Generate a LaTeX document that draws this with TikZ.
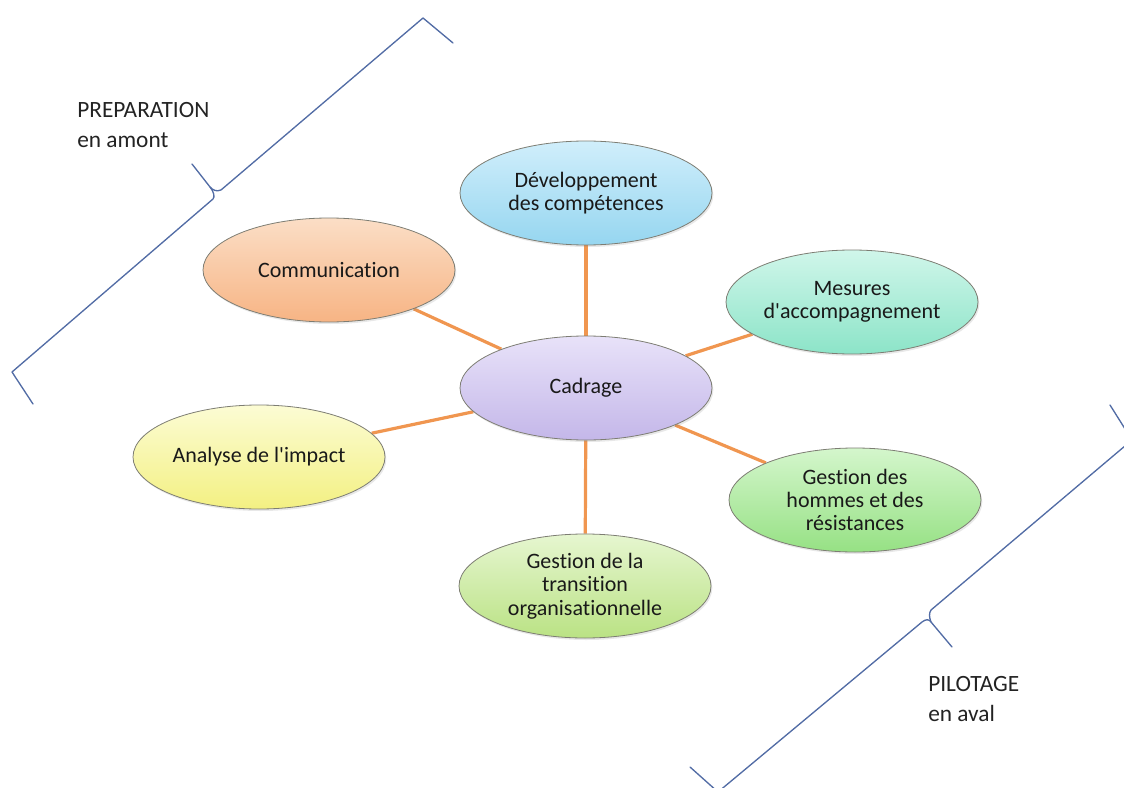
\documentclass[tikz,border=0pt]{standalone}
\usepackage{fontspec}
\setmainfont{Carlito}[Ligatures=NoCommon]
\usetikzlibrary{shapes.geometric,shadows,backgrounds}
\definecolor{bordergray}{RGB}{125,125,115}
\definecolor{textdark}{RGB}{25,25,25}
\definecolor{labeltext}{RGB}{35,35,35}
\definecolor{linkorange}{RGB}{240,150,80}
\definecolor{bracketblue}{RGB}{82,108,165}
\definecolor{devtop}{RGB}{208,238,251}\definecolor{devbot}{RGB}{150,214,240}
\definecolor{comtop}{RGB}{251,222,198}\definecolor{combot}{RGB}{247,180,132}
\definecolor{mestop}{RGB}{208,246,234}\definecolor{mesbot}{RGB}{140,228,200}
\definecolor{cadtop}{RGB}{232,226,249}\definecolor{cadbot}{RGB}{196,183,233}
\definecolor{anatop}{RGB}{252,252,212}\definecolor{anabot}{RGB}{243,240,130}
\definecolor{homtop}{RGB}{212,246,204}\definecolor{hombot}{RGB}{150,225,132}
\definecolor{tratop}{RGB}{230,246,208}\definecolor{trabot}{RGB}{186,226,132}
\begin{document}
\begin{tikzpicture}[x=0.75pt,y=-0.75pt,
  bubble/.style={ellipse, draw=bordergray, line width=0.6pt,
    minimum width=189pt, minimum height=78pt, inner sep=0pt,
    align=center, text=textdark,
    font=\fontsize{16.5}{17.5}\selectfont,
    drop shadow={opacity=0.18, shadow xshift=1pt, shadow yshift=-1.5pt}},
  link/.style={draw=linkorange, line width=2.4pt},
  sidelabel/.style={anchor=north west, inner sep=0pt, align=left,
    text=labeltext, font=\fontsize{17.5}{22.5}\selectfont},
  bracket/.style={draw=bracketblue, line width=1pt, line join=round, line cap=round}
]
\useasboundingbox (0,0) rectangle (1124,788);
\clip (0,0) rectangle (1124,788);

% ellipses
\node[bubble, top color=cadtop, bottom color=cadbot] (cad) at (586,388) {Cadrage};
\node[bubble, top color=devtop, bottom color=devbot] (dev) at (586,193) {Développement\\des compétences};
\node[bubble, top color=comtop, bottom color=combot] (com) at (329,270) {Communication};
\node[bubble, top color=mestop, bottom color=mesbot] (mes) at (852,302) {Mesures\\d\textquotesingle accompagnement};
\node[bubble, top color=anatop, bottom color=anabot] (ana) at (259,457) {Analyse de l\textquotesingle impact};
\node[bubble, top color=homtop, bottom color=hombot] (hom) at (855,500) {Gestion des\\hommes et des\\résistances};
\node[bubble, top color=tratop, bottom color=trabot] (tra) at (585,586) {Gestion de la\\transition\\organisationnelle};

% connectors (behind the ellipses)
\begin{pgfonlayer}{background}
\draw[link] (cad) -- (dev);
\draw[link] (cad) -- (com);
\draw[link] (cad) -- (mes);
\draw[link] (cad) -- (ana);
\draw[link] (cad) -- (hom);
\draw[link] (cad) -- (tra);
\end{pgfonlayer}

% side labels
\node[sidelabel] (prep) at (77,102) {PREPARATION\\en amont};
\node[sidelabel] (pilot) at (928,676) {PILOTAGE\\en aval};

% top-left bracket
\draw[bracket] (33,404) -- (12,372) -- (213,199)
  .. controls (215,197) and (214,192) .. (210,187) -- (192,164);
\draw[bracket] (210,187) .. controls (213,190) and (216,192) .. (221,190)
  -- (423,18) -- (453,43);

% bottom-right bracket
\draw[bracket] (690,767) -- (718,792) -- (922,622)
  .. controls (926,619) and (929,619) .. (931,622) -- (952,647);
\draw[bracket] (931,622) .. controls (929,617) and (929,613) .. (931,610)
  -- (1132,440) -- (1110,405);
\end{tikzpicture}
\end{document}
